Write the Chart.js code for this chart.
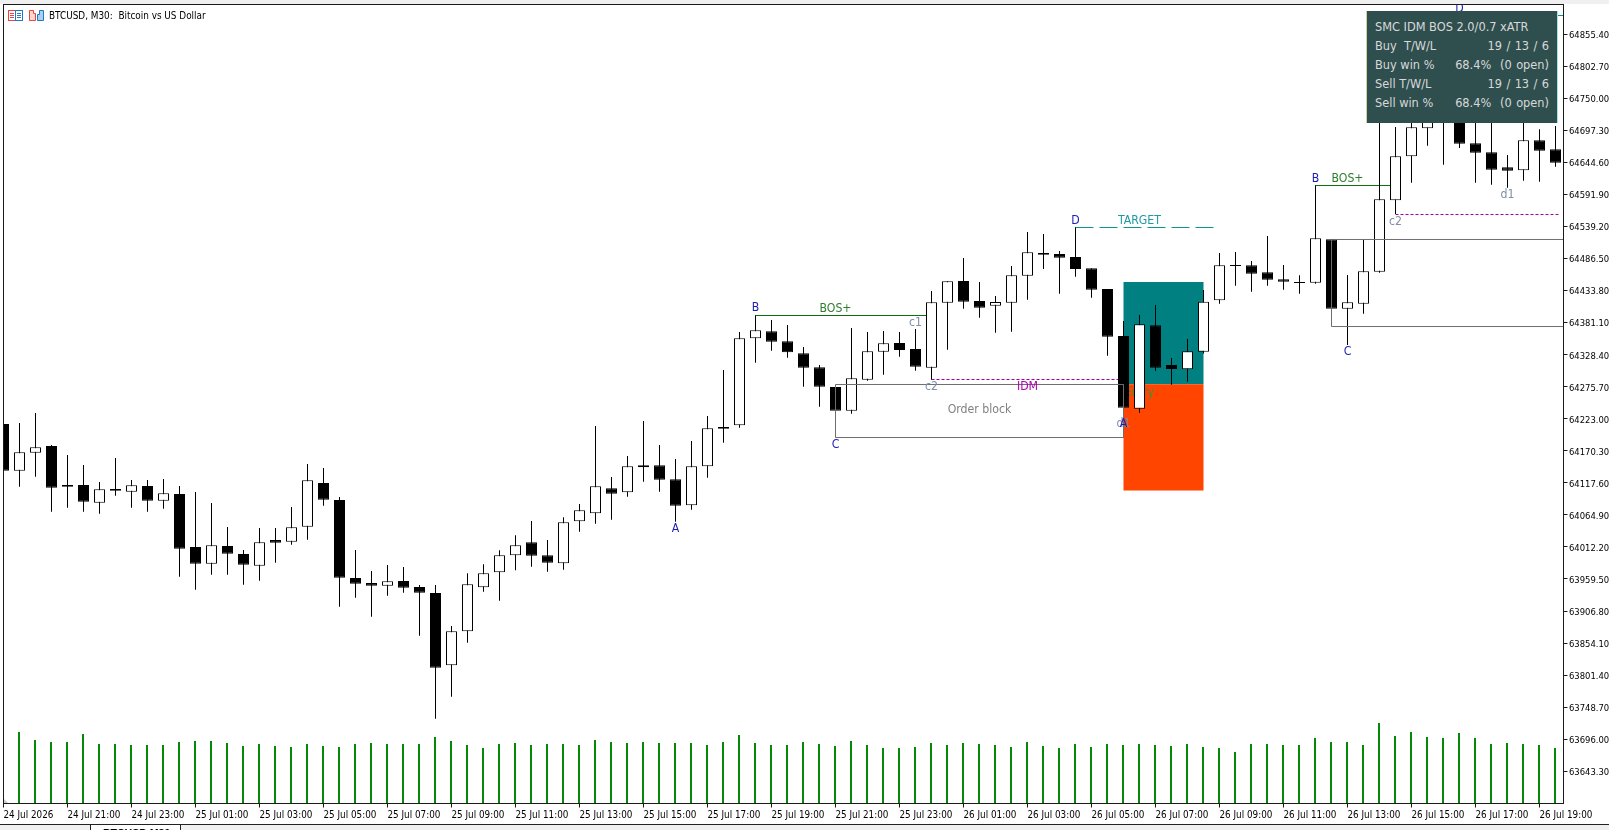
<!DOCTYPE html>
<html>
<head>
<meta charset="utf-8">
<title>BTCUSD, M30</title>
<script src="https://cdn.jsdelivr.net/npm/chart.js@4"></script>
<style>
    html, body { margin: 0; padding: 0; background: #fff; overflow: hidden; }
    #wrap { position: relative; width: 1609px; height: 830px; font-family: "DejaVu Sans Condensed", "DejaVu Sans", sans-serif; }
    canvas { position: absolute; left: 0; top: 0; }
    #topstrip { position: absolute; left: 0; top: 0; width: 1609px; height: 4px; background: #f0f0f0; }
    #title { position: absolute; left: 49px; top: 9px; font-size: 9.9px; line-height: 13px; color: #000; white-space: pre; }
    #icons { position: absolute; left: 8px; top: 9px; }
    #panel { position: absolute; left: 1366px; top: 11px; width: 192px; height: 112px; background: #2f4f4f; color: #d8d8d8; font-size: 12.65px; box-sizing: border-box; border-left: 1px solid #d0d0a0; border-right: 1px solid #a8e0e8; }
    #panel .row { position: absolute; left: 8px; right: 8px; height: 19px; line-height: 19px; white-space: pre; display: flex; justify-content: space-between; }
    #panel .wide { word-spacing: 0.8px; }
    #tabs { position: absolute; left: 0; top: 824px; width: 1609px; height: 6px; background: #f0f0f0; border-top: 1px solid #222; box-sizing: border-box; overflow: hidden; }
    #tab1 { position: absolute; left: 90px; top: -1px; width: 91px; height: 7px; background: #fff; border-left: 1px solid #222; border-right: 1px solid #222; box-sizing: border-box; }
    #tab1 span { position: absolute; left: 12px; top: 3px; font: bold 10.5px "Liberation Sans", sans-serif; color: #000; white-space: pre; }
</style>
</head>
<body>
<div id="wrap">
    <canvas id="chart" width="1609" height="830"></canvas>
    <div id="topstrip"></div>
    <svg id="icons" width="38" height="14" viewBox="0 0 38 14">
        <rect x="0.5" y="1.5" width="7" height="10" fill="#fff" stroke="#f04040"/>
        <rect x="7.5" y="1.5" width="7" height="10" fill="#fff" stroke="#1f78c8"/>
        <path d="M2 4.5h4M2 6.5h4M2 8.5h4" stroke="#f04040"/>
        <path d="M9 4.5h4M9 6.5h4M9 8.5h4" stroke="#1f78c8"/>
        <path d="M21.5 11.5v-10h4v3h2v7z" fill="#ffd8d0" stroke="#f04040"/>
        <path d="M29.5 11.5v-6h2v-4h4v10z" fill="#a8d0f0" stroke="#1f78c8"/>
    </svg>
    <div id="title">BTCUSD, M30:  Bitcoin vs US Dollar</div>
    <div id="panel"></div>
    <div id="tabs"><div id="tab1"><span>BTCUSD,M30</span></div></div>
</div>
<script>
// 30 minute bars, 24 Jul 19:00 to 26 Jul 19:30
const opens = [
    64214.3, 64137.5, 64167.1, 64178.1, 64114.0, 64114.0, 64084.9, 64107.4, 64103.0, 64112.3,
    64088.2, 64099.2, 64012.1, 63984.7, 64013.7, 64000.5, 63981.4, 64023.6, 64020.8, 64045.5,
    64117.3, 64089.3, 63961.1, 63952.9, 63948.5, 63956.1, 63946.3, 63936.4, 63817.5, 63873.4,
    63945.7, 63970.4, 63998.3, 64019.7, 63998.3, 63985.2, 64054.2, 64067.4, 64108.5, 64101.9,
    64143.0, 64146.3, 64123.3, 64080.5, 64144.6, 64209.3, 64212.1, 64355.1, 64366.6, 64350.1,
    64330.4, 64307.4, 64275.1, 64236.2, 64287.1, 64333.2, 64347.4, 64337.5, 64306.9, 64413.7,
    64449.3, 64416.5, 64408.8, 64413.7, 64458.1, 64495.4, 64493.7, 64488.8, 64470.2, 64436.2,
    64358.9, 64239.5, 64376.5, 64311.2, 64304.1, 64333.2, 64417.6, 64475.6, 64475.1, 64463.6,
    64452.1, 64447.7, 64446.6, 64517.8, 64403.9, 64412.1, 64464.7, 64582.0, 64654.3, 64700.3,
    64725.0, 64730.5, 64675.7, 64660.9, 64636.2, 64631.3, 64680.6, 64665.8
];
const highs = [
    64214.3, 64215.9, 64232.3, 64179.7, 64163.3, 64146.9, 64118.9, 64158.4, 64122.2, 64122.2,
    64123.8, 64112.3, 64102.5, 64084.4, 64044.9, 64007.1, 64043.3, 64043.3, 64077.8, 64148.5,
    64141.9, 64094.3, 64007.1, 63972.6, 63982.5, 63979.2, 63949.6, 63949.6, 63882.2, 63968.7,
    63983.5, 64006.6, 64031.2, 64054.8, 64023.5, 64060.8, 64082.7, 64211.0, 64127.1, 64161.6,
    64219.2, 64179.7, 64156.7, 64186.3, 64227.4, 64303.0, 64365.5, 64392.9, 64385.2, 64377.0,
    64340.8, 64311.2, 64275.1, 64372.1, 64365.5, 64367.1, 64365.5, 64370.4, 64432.9, 64448.8,
    64487.1, 64447.7, 64424.7, 64474.0, 64529.9, 64526.6, 64498.7, 64537.6, 64470.2, 64436.2,
    64383.6, 64393.4, 64409.9, 64322.7, 64354.0, 64434.5, 64495.4, 64497.0, 64482.2, 64523.3,
    64475.6, 64458.7, 64606.6, 64517.8, 64459.2, 64517.8, 64752.4, 64702.5, 64730.5, 64747.0,
    64856.5, 64885.5, 64725.0, 64714.0, 64656.5, 64714.0, 64698.7, 64704.2
];
const lows = [
    64137.5, 64111.2, 64127.7, 64070.1, 64076.7, 64070.1, 64066.9, 64096.4, 64076.7, 64070.1,
    64075.1, 63963.3, 63941.9, 63966.6, 63966.6, 63950.1, 63956.7, 63986.3, 64015.9, 64024.1,
    64080.0, 63914.0, 63928.8, 63897.5, 63932.0, 63937.0, 63866.3, 63729.8, 63765.9, 63854.8,
    63938.6, 63923.8, 63973.7, 63979.7, 63971.5, 63974.8, 64037.2, 64050.4, 64057.0, 64094.8,
    64119.4, 64103.0, 64053.7, 64073.4, 64126.0, 64183.6, 64208.2, 64315.1, 64334.8, 64323.3,
    64275.6, 64242.7, 64192.3, 64231.2, 64285.5, 64295.3, 64324.9, 64301.9, 64287.1, 64336.4,
    64403.9, 64389.1, 64364.4, 64366.0, 64418.6, 64469.1, 64428.5, 64456.5, 64421.9, 64326.6,
    64223.6, 64232.9, 64301.4, 64278.9, 64283.8, 64330.0, 64412.1, 64441.7, 64431.8, 64441.7,
    64435.1, 64428.5, 64445.0, 64375.4, 64344.1, 64395.6, 64463.0, 64559.5, 64611.0, 64671.8,
    64640.6, 64668.0, 64611.0, 64607.7, 64602.8, 64614.3, 64612.6, 64637.3
];
const closes = [
    64137.5, 64167.7, 64175.9, 64109.6, 64111.2, 64086.6, 64106.9, 64104.7, 64113.4, 64088.2,
    64100.3, 64009.3, 63984.7, 64014.8, 64001.1, 63983.0, 64019.7, 64019.2, 64044.4, 64121.7,
    64089.9, 63961.6, 63951.8, 63948.5, 63955.6, 63945.2, 63937.0, 63813.7, 63873.4, 63950.7,
    63968.7, 63998.3, 64014.8, 63997.8, 63986.3, 64052.6, 64072.3, 64111.8, 64099.7, 64144.6,
    64146.3, 64122.7, 64080.0, 64144.6, 64207.1, 64206.6, 64355.1, 64368.2, 64349.6, 64332.1,
    64306.9, 64275.6, 64236.2, 64289.3, 64333.7, 64346.9, 64335.9, 64308.5, 64414.3, 64448.8,
    64415.4, 64405.5, 64414.8, 64458.7, 64496.5, 64492.6, 64487.7, 64469.1, 64435.1, 64357.8,
    64241.1, 64378.1, 64306.9, 64304.7, 64333.7, 64415.4, 64475.1, 64474.0, 64461.4, 64451.5,
    64448.2, 64446.0, 64519.5, 64403.9, 64414.3, 64465.2, 64583.6, 64654.3, 64702.0, 64719.5,
    64801.7, 64675.1, 64660.3, 64632.4, 64630.7, 64680.6, 64663.6, 64643.9
];
const volumes = [
    70, 71, 63, 61, 61, 69, 59, 59, 58, 58,
    58, 61, 62, 62, 60, 57, 59, 57, 56, 59,
    57, 56, 59, 60, 59, 59, 59, 66, 62, 58,
    55, 59, 60, 58, 59, 59, 58, 63, 61, 60,
    61, 60, 60, 60, 58, 61, 68, 60, 58, 58,
    61, 59, 57, 62, 58, 55, 55, 56, 60, 58,
    60, 59, 58, 56, 61, 57, 55, 59, 56, 59,
    58, 59, 58, 57, 59, 56, 55, 51, 59, 59,
    58, 58, 65, 61, 61, 58, 80, 67, 71, 66,
    65, 70, 65, 59, 60, 59, 58, 55
];

const timeLabels = [
    "24 Jul 2026", "24 Jul 21:00", "24 Jul 23:00",
    "25 Jul 01:00", "25 Jul 03:00", "25 Jul 05:00", "25 Jul 07:00", "25 Jul 09:00", "25 Jul 11:00",
    "25 Jul 13:00", "25 Jul 15:00", "25 Jul 17:00", "25 Jul 19:00", "25 Jul 21:00", "25 Jul 23:00",
    "26 Jul 01:00", "26 Jul 03:00", "26 Jul 05:00", "26 Jul 07:00", "26 Jul 09:00", "26 Jul 11:00",
    "26 Jul 13:00", "26 Jul 15:00", "26 Jul 17:00", "26 Jul 19:00"
];
const priceTicks = [
    64855.40, 64802.70, 64750.00, 64697.30, 64644.60, 64591.90, 64539.20, 64486.50,
    64433.80, 64381.10, 64328.40, 64275.70, 64223.00, 64170.30, 64117.60, 64064.90,
    64012.20, 63959.50, 63906.80, 63854.10, 63801.40, 63748.70, 63696.00, 63643.30
];

// indicator levels, [bar index, bar index] and price
const bosLevels = [64392.6, 64606.3];
const bosStart = [47, 82];
const bosEnd = [58, 87];
const idmLevels = [64287.4, 64558.7];
const idmStart = [58, 87];
const idmEnd = [70, 97.3];
const targetLevels = [64537.3, 64885.8];
const targetStart = [67, 91];
const targetEnd = [75.7, 97.5];
const blockTop = [64279.2, 64517.6];
const blockBottom = [64192.0, 64374.5];
const blockStart = [52, 83];
const blockEnd = [70, 97.5];

// trade zone
const zoneStart = 70;
const zoneEnd = 75;
const zoneTop = 64447.7;
const zoneEntry = 64279.6;
const zoneBottom = 64104.9;

// chart labels
const labelTexts = ["A", "B", "C", "D", "BOS+", "c1", "c2", "IDM", "Order block", "TARGET", "d1", "A", "B", "BOS+", "c2", "d1", "C", "D"];
const labelBars = [42, 47, 52, 67, 52, 57, 58, 64, 61, 71, 70, 70, 82, 84, 87, 94, 84, 91];
const labelPrices = [64042.1, 64404.5, 64179.7, 64548.5, 64403.8, 64379.8, 64274.6, 64275.6, 64236.8, 64548.5, 64214.2, 64214.2, 64617.5, 64617.5, 64546.8, 64591.2, 64332.6, 64897.3];
const labelColors = ["#1c1cb4", "#1c1cb4", "#1c1cb4", "#1c1cb4", "#2e7d2e", "#7f8fa6", "#7f8fa6", "#b000b0", "#808080", "#1f9aa5", "#7f8fa6", "#1c1cb4", "#1c1cb4", "#2e7d2e", "#7f8fa6", "#7f8fa6", "#1c1cb4", "#1c1cb4"];

const panelLeft = ["SMC IDM BOS 2.0/0.7 xATR", "Buy  T/W/L", "Buy win %", "Sell T/W/L", "Sell win %"];
const panelRight = ["", "19 / 13 / 6", "68.4%  (0 open)", "19 / 13 / 6", "68.4%  (0 open)"];

const panel = document.getElementById("panel");
panelLeft.forEach((text, i) => {
    const row = document.createElement("div");
    row.className = "row";
    row.style.top = (6 + i * 19) + "px";
    row.innerHTML = "<span>" + text + "</span><span class='wide'>" + panelRight[i] + "</span>";
    panel.appendChild(row);
});

const labelFont = '12.2px "DejaVu Sans Condensed", "DejaVu Sans", sans-serif';
const fontFamily = '"DejaVu Sans Condensed", "DejaVu Sans", sans-serif';

function levelLine(x1, x2, level, color, dash, order) {
    return {
        type: "line",
        data: [{ x: x1, y: level }, { x: x2, y: level }],
        borderColor: color,
        borderWidth: 1,
        borderDash: dash,
        pointRadius: 0,
        xAxisID: "x",
        yAxisID: "y",
        order: order
    };
}

function blockBox(i) {
    return {
        type: "line",
        data: [
            { x: blockStart[i], y: blockTop[i] },
            { x: blockEnd[i], y: blockTop[i] },
            { x: blockEnd[i], y: blockBottom[i] },
            { x: blockStart[i], y: blockBottom[i] },
            { x: blockStart[i], y: blockTop[i] }
        ],
        borderColor: "#6e6e6e",
        borderWidth: 1,
        pointRadius: 0,
        xAxisID: "x",
        yAxisID: "y",
        order: 1
    };
}

// filled zones and the entry text go under the candles
const zonePlugin = {
    id: "zones",
    beforeDatasetsDraw(chart) {
        const { ctx, scales } = chart;
        const left = scales.x.getPixelForValue(zoneStart);
        const right = scales.x.getPixelForValue(zoneEnd);
        const top = scales.y.getPixelForValue(zoneTop);
        const mid = scales.y.getPixelForValue(zoneEntry);
        const bottom = scales.y.getPixelForValue(zoneBottom);
        ctx.save();
        ctx.fillStyle = "#008080";
        ctx.fillRect(left, top, right - left, mid - top);
        ctx.fillStyle = "#ff4500";
        ctx.fillRect(left, mid, right - left, bottom - mid);
        ctx.font = labelFont;
        ctx.textAlign = "center";
        ctx.textBaseline = "middle";
        ctx.fillStyle = "#3f8f3f";
        ctx.fillText("Entry", scales.x.getPixelForValue(71), scales.y.getPixelForValue(64265.7));
        ctx.restore();
    },
    afterDatasetsDraw(chart) {
        const { ctx, scales, chartArea } = chart;
        ctx.save();
        ctx.font = labelFont;
        ctx.textAlign = "center";
        ctx.textBaseline = "middle";
        labelTexts.forEach((text, i) => {
            ctx.fillStyle = labelColors[i];
            ctx.fillText(text, scales.x.getPixelForValue(labelBars[i]), scales.y.getPixelForValue(labelPrices[i]));
        });
        // chart frame and the little shift marker
        ctx.strokeStyle = "#1a1a1a";
        ctx.lineWidth = 1;
        ctx.strokeRect(chartArea.left, chartArea.top, chartArea.right - chartArea.left, chartArea.bottom - chartArea.top);
        ctx.fillStyle = "#c8c8c8";
        ctx.beginPath();
        ctx.moveTo(chartArea.left + 0.5, chartArea.bottom - 0.5);
        ctx.lineTo(chartArea.left + 0.5, chartArea.bottom - 4.5);
        ctx.lineTo(chartArea.left + 4.5, chartArea.bottom - 0.5);
        ctx.fill();
        ctx.restore();
    }
};

const bars = opens.map((o, i) => i);

new Chart(document.getElementById("chart"), {
    type: "bar",
    plugins: [zonePlugin],
    data: {
        datasets: [
            blockBox(0),
            blockBox(1),
            {
                data: bars.map(i => ({ x: i, y: [opens[i], closes[i]] })),
                backgroundColor: ctx => closes[ctx.dataIndex] >= opens[ctx.dataIndex] ? "#ffffff" : "#000000",
                borderColor: "#000000",
                borderWidth: 1,
                borderSkipped: false,
                inflateAmount: 0,
                barThickness: 11,
                grouped: false,
                xAxisID: "x",
                yAxisID: "y",
                order: 5
            },
            {
                data: bars.map(i => ({ x: i, y: [lows[i], highs[i]] })),
                backgroundColor: "#000000",
                borderWidth: 0,
                inflateAmount: 0,
                barThickness: 1,
                grouped: false,
                xAxisID: "x",
                yAxisID: "y",
                order: 6
            },
            {
                data: bars.map(i => ({ x: i, y: volumes[i] })),
                backgroundColor: "#058a05",
                borderWidth: 0,
                inflateAmount: 0,
                barThickness: 2,
                grouped: false,
                xAxisID: "xVol",
                yAxisID: "yVol",
                order: 7
            },
            levelLine(bosStart[0], bosEnd[0], bosLevels[0], "#0f6e0f", [], 8),
            levelLine(bosStart[1], bosEnd[1], bosLevels[1], "#0f6e0f", [], 8),
            levelLine(idmStart[0], idmEnd[0], idmLevels[0], "#a000a0", [3, 2], 8),
            levelLine(idmStart[1], idmEnd[1], idmLevels[1], "#a000a0", [3, 2], 8),
            levelLine(targetStart[0], targetEnd[0], targetLevels[0], "#0e8f96", [18, 6], 8),
            levelLine(targetStart[1], targetEnd[1], targetLevels[1], "#0e8f96", [], 8)
        ]
    },
    options: {
        responsive: false,
        animation: false,
        events: [],
        layout: { padding: { left: 3.5, top: 4.5, right: 0, bottom: 0 } },
        plugins: { legend: { display: false }, tooltip: { enabled: false } },
        scales: {
            x: {
                type: "linear",
                position: "bottom",
                min: 0,
                max: 97.5,
                offset: false,
                afterFit(scale) {
                    scale.height = 26.5;
                    scale.paddingLeft = 0;
                    scale.paddingRight = 0;
                },
                afterBuildTicks(scale) {
                    scale.ticks = timeLabels.map((t, i) => ({ value: i * 4 }));
                },
                border: { color: "#1a1a1a" },
                grid: { offset: false, drawOnChartArea: false, drawTicks: true, tickLength: 4, color: "#1a1a1a" },
                ticks: {
                    autoSkip: false,
                    maxRotation: 0,
                    minRotation: 0,
                    align: "start",
                    padding: 2,
                    color: "#000",
                    font: { family: fontFamily, size: 9.8 },
                    callback: v => timeLabels[v / 4]
                }
            },
            y: {
                type: "linear",
                position: "right",
                min: 63590.346,
                max: 64903.902,
                afterFit(scale) {
                    scale.width = 45.5;
                    scale.paddingTop = 0;
                    scale.paddingBottom = 0;
                },
                afterBuildTicks(scale) {
                    scale.ticks = priceTicks.map(v => ({ value: v }));
                },
                border: { color: "#1a1a1a" },
                grid: { drawOnChartArea: false, drawTicks: true, tickLength: 4, color: "#1a1a1a" },
                ticks: {
                    autoSkip: false,
                    padding: 1.5,
                    labelOffset: 1.5,
                    color: "#000",
                    font: { family: fontFamily, size: 9.4 },
                    callback: v => v.toFixed(2)
                }
            },
            xVol: { type: "linear", display: false, offset: false, min: 0.03125, max: 97.53125 },
            yVol: { type: "linear", display: false, min: -0.5, max: 798.5 }
        }
    }
});
</script>
</body>
</html>
